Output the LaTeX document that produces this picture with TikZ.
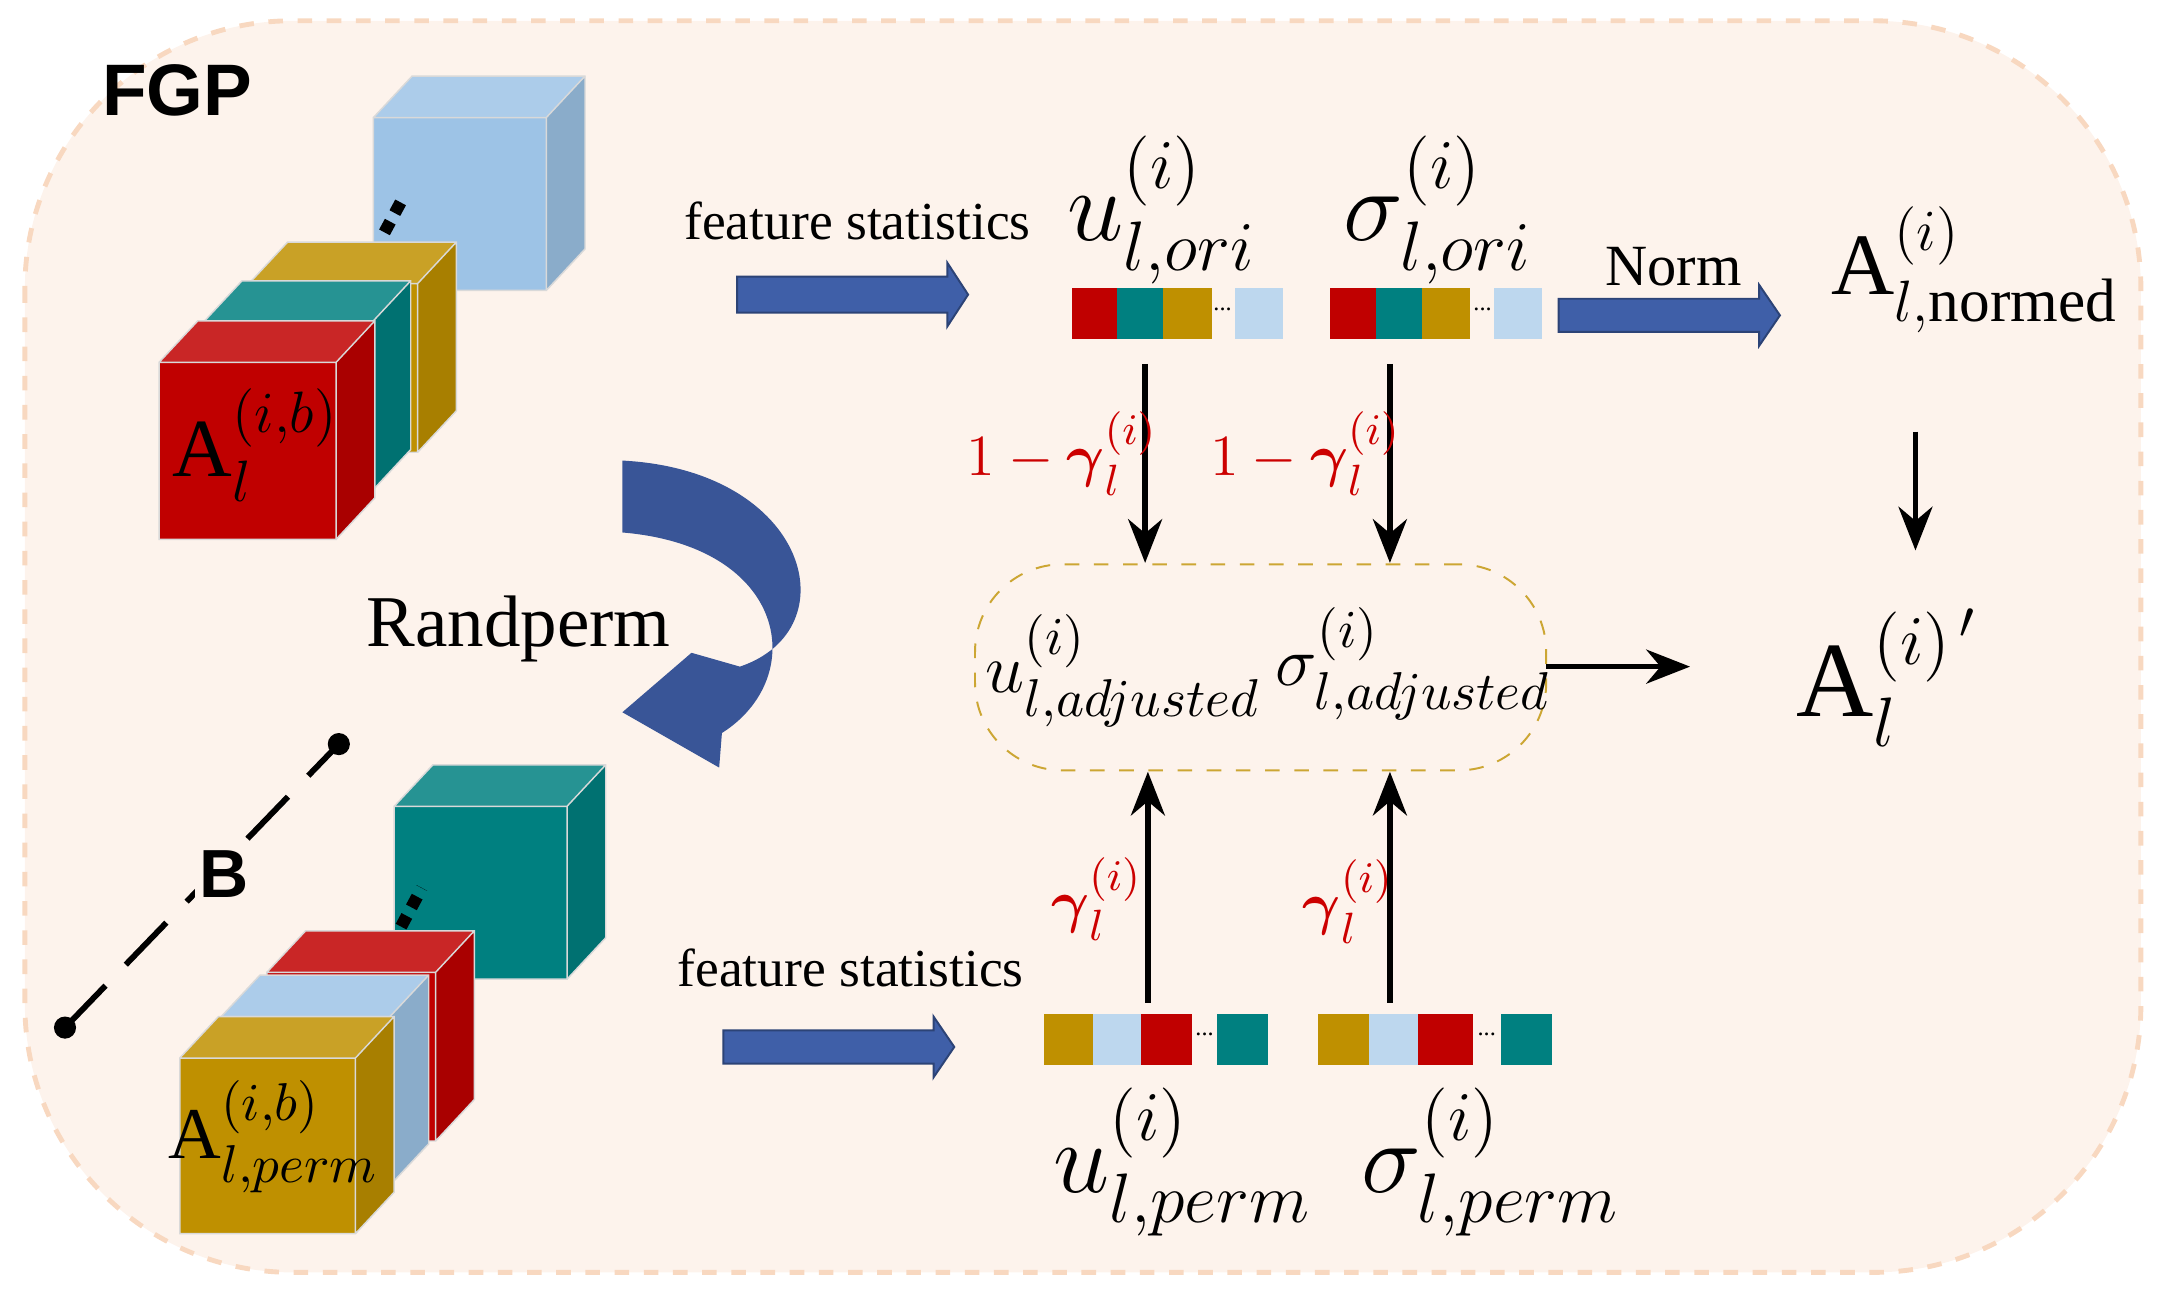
\documentclass[tikz,border=0pt]{standalone}
\usepackage{fontspec}
\usepackage{amsmath}
\setmainfont{Liberation Serif}
\newfontfamily\sans{Liberation Sans}
\usetikzlibrary{arrows.meta}
\definecolor{bg}{HTML}{FDF3EC}
\definecolor{bgb}{HTML}{F8D8C0}
\definecolor{cred}{HTML}{C00000}
\definecolor{cteal}{HTML}{008080}
\definecolor{cgold}{HTML}{BF9000}
\definecolor{clb}{HTML}{9DC3E6}
\definecolor{clb2}{HTML}{BDD7EE}
\definecolor{barrow}{HTML}{3F5FA8}
\definecolor{rlab}{HTML}{CC0000}
\newcommand{\slab}[4]{% x y size color
  \fill[#4!85!white] (#1,#2) -- ++(28,-30) -- ++(#3,0) -- ++(-28,30) -- cycle;
  \fill[#4!88!black] (#1+#3,#2) -- ++(28,-30) -- ++(0,#3) -- ++(-28,30) -- cycle;
  \fill[#4] (#1,#2) rectangle ++(#3,#3);
  \draw[white!70!gray,line width=0.3pt] (#1,#2) rectangle ++(#3,#3) (#1,#2)--++(28,-30)--++(#3,0)--++(0,#3)--++(-28,30) (#1+#3,#2)--++(28,-30);}
\tikzset{x=0.01cm,y=-0.01cm,
  blk/.style={-{Stealth[length=9,width=7]},line width=1.1pt},
  barr/.style={fill=barrow,draw=barrow!70!black,line width=0.4pt},
  rl/.style={text=rlab,font=\fontsize{13}{15}\selectfont},
  stat/.style={font=\fontsize{11}{13}\selectfont}}
\begin{document}
\begin{tikzpicture}
\useasboundingbox (0,0) rectangle (1564,935);
\draw[bgb,fill=bg,dashed,line width=1pt,rounded corners=55] (18,15) rectangle (1548,920);
\node[font=\sans\bfseries\fontsize{15}{17}\selectfont] (fgp) at (128,65) {FGP};
% top stack
\slab{270}{85}{125}{clb}
\slab{180}{205}{122}{cgold}
\slab{147}{233}{122}{cteal}
\slab{115}{262}{128}{cred}
\draw[line width=2.5pt,dotted] (278,168)--(292,142);
\node[font=\fontsize{17}{19}\selectfont] (a1) at (185,322) {$\mathrm{A}_l^{(i,b)}$};
% bottom stack
\slab{285}{583}{125}{cteal}
\slab{193}{703}{122}{cred}
\slab{160}{735}{122}{clb}
\slab{130}{765}{127}{cgold}
\draw[line width=2.5pt,dotted] (290,670)--(305,642);
\node[font=\fontsize{15}{17}\selectfont] (a2) at (198,822) {$\mathrm{A}_{l,perm}^{(i,b)}$};
% B
\coordinate (b1) at (47,743); \coordinate (b2) at (245,538);
\draw[dashed,line width=1.2pt,dash pattern=on 12pt off 6pt] (b1)--(b2);
\fill (b1) circle (8); \fill (b2) circle (8);
\node[font=\sans\bfseries\fontsize{14}{16}\selectfont,fill=bg,inner sep=1pt] (bl) at (162,632) {B};
% curved arrow
\fill[barrow!90!black] (450,333) .. controls (585,340) and (615,455) .. (535,482)
  -- (500,472) -- (450,515) -- (520,555) -- (522,530)
  .. controls (585,490) and (570,395) .. (450,385) -- cycle;
\node[font=\fontsize{15}{17}\selectfont] (rp) at (375,455) {Randperm};
% blue block arrows
\fill[barr] (533,200) -- (685,200) -- (685,190) -- (700,213) -- (685,236) -- (685,226) -- (533,226) -- cycle;
\fill[barr] (1127,216) -- (1272,216) -- (1272,206) -- (1287,228) -- (1272,250) -- (1272,240) -- (1127,240) -- cycle;
\fill[barr] (523,745) -- (675,745) -- (675,735) -- (690,757) -- (675,779) -- (675,769) -- (523,769) -- cycle;
\node[stat] (fs1) at (620,160) {feature statistics};
\node[stat] (fs2) at (615,700) {feature statistics};
\node[font=\fontsize{12}{14}\selectfont] (nm) at (1210,193) {Norm};
% bars
\foreach \a/\b/\c in {775/808/cred,808/841/cteal,841/876/cgold,893/928/clb2,
  962/995/cred,995/1028/cteal,1028/1063/cgold,1080/1115/clb2}
  \fill[\c] (\a,208) rectangle (\b,245);
\foreach \a/\b/\c in {755/790/cgold,790/825/clb2,825/862/cred,880/917/cteal,
  953/990/cgold,990/1025/clb2,1025/1065/cred,1085/1122/cteal}
  \fill[\c] (\a,733) rectangle (\b,770);
\foreach \x/\y in {884/228,1072/228,871/752,1075/752} \node[font=\tiny] at (\x,\y-4) {...};
% labels
\node[font=\fontsize{21}{23}\selectfont] (uo) at (840,152) {$u_{l,ori}^{(i)}$};
\node[font=\fontsize{21}{23}\selectfont] (so) at (1040,152) {$\sigma_{l,ori}^{(i)}$};
\node[font=\fontsize{18}{20}\selectfont] (an) at (1428,195) {$\mathrm{A}_{l,\mathrm{normed}}^{(i)}$};
\node[font=\fontsize{22}{24}\selectfont] (ap) at (1365,490) {$\mathrm{A}_l^{(i)^{\,\prime}}$};
\node[font=\fontsize{21}{23}\selectfont] (up) at (855,840) {$u_{l,perm}^{(i)}$};
\node[font=\fontsize{21}{23}\selectfont] (sp) at (1078,840) {$\sigma_{l,perm}^{(i)}$};
\node[draw=cgold!80!white,dashed,rounded corners=18,minimum width=413*0.01cm,minimum height=149*0.01cm] (box) at (911.5,482.5) {};
\node[font=\fontsize{15}{17}\selectfont] (ua) at (812,485) {$u_{l,adjusted}^{(i)}$};
\node[font=\fontsize{15}{17}\selectfont] (sa) at (1022,480) {$\sigma_{l,adjusted}^{(i)}$};
% arrows
\coordinate (t1) at (828,263); \coordinate (t2) at (1005,263);
\coordinate (m1) at (828,407); \coordinate (m2) at (1005,407);
\coordinate (d1) at (830,725); \coordinate (d2) at (1005,725);
\coordinate (n1) at (830,558); \coordinate (n2) at (1005,558);
\draw[blk] (t1)--(m1); \draw[blk] (t2)--(m2);
\draw[blk] (d1)--(n1); \draw[blk] (d2)--(n2);
\coordinate (e1) at (1118,482); \coordinate (e2) at (1222,482);
\draw[blk] (e1)--(e2);
\coordinate (f1) at (1385,312); \coordinate (f2) at (1385,398);
\draw[blk] (f1)--(f2);
\node[rl] (g1) at (768,328) {$1-\boldsymbol{\gamma}_l^{(i)}$};
\node[rl] (g2) at (944,328) {$1-\boldsymbol{\gamma}_l^{(i)}$};
\node[rl] (g3) at (793,650) {$\boldsymbol{\gamma}_l^{(i)}$};
\node[rl] (g4) at (975,652) {$\boldsymbol{\gamma}_l^{(i)}$};
\end{tikzpicture}
\end{document}
